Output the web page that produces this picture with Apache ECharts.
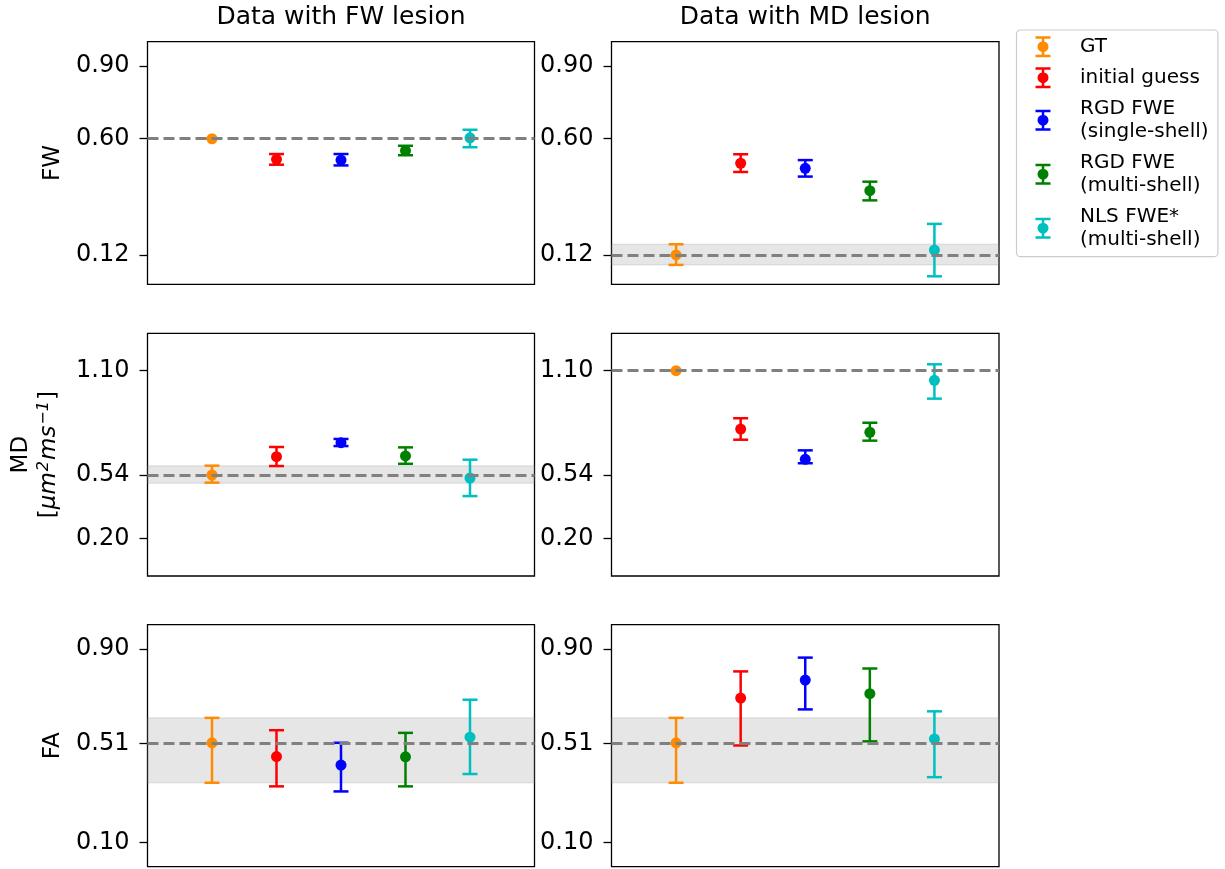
<!DOCTYPE html>
<html>
<head>
    <meta charset="utf-8">
    <script src="https://cdn.jsdelivr.net/npm/echarts@6/dist/echarts.min.js"></script>
    <style>
        html, body { margin: 0; padding: 0; background: #fff; }
        #chart { width: 1225px; height: 869px; }
    </style>
</head>
<body>
<div id="chart"></div>
<script>
    // methods and colours
    var methods = ['GT', 'initial guess', 'RGD FWE\n(single-shell)', 'RGD FWE\n(multi-shell)', 'NLS FWE*\n(multi-shell)'];
    var colors = ['#ff8c00', '#ff0000', '#0000ff', '#008000', '#00bfbf'];
    var colTitles = ['Data with FW lesion', 'Data with MD lesion'];

    // y tick values per row
    var fwTicks = [0.12, 0.60, 0.90];
    var mdTicks = [0.20, 0.54, 1.10];
    var faTicks = [0.10, 0.51, 0.90];

    // FW lesion data: mean / lower / upper
    var fwLesionFW_mean = [0.600, 0.515, 0.512, 0.551, 0.604];
    var fwLesionFW_lo   = [0.600, 0.493, 0.490, 0.532, 0.565];
    var fwLesionFW_hi   = [0.600, 0.537, 0.537, 0.571, 0.637];

    var fwLesionMD_mean = [0.541, 0.639, 0.714, 0.643, 0.525];
    var fwLesionMD_lo   = [0.500, 0.589, 0.696, 0.601, 0.428];
    var fwLesionMD_hi   = [0.591, 0.691, 0.734, 0.689, 0.623];

    var fwLesionFA_mean = [0.512, 0.455, 0.420, 0.454, 0.535];
    var fwLesionFA_lo   = [0.347, 0.332, 0.311, 0.332, 0.383];
    var fwLesionFA_hi   = [0.615, 0.564, 0.512, 0.553, 0.690];

    // MD lesion data
    var mdLesionFW_mean = [0.121, 0.499, 0.478, 0.386, 0.141];
    var mdLesionFW_lo   = [0.080, 0.463, 0.444, 0.346, 0.033];
    var mdLesionFW_hi   = [0.165, 0.536, 0.512, 0.423, 0.249];

    var mdLesionMD_mean = [1.100, 0.787, 0.625, 0.770, 1.048];
    var mdLesionMD_lo   = [1.100, 0.730, 0.604, 0.725, 0.950];
    var mdLesionMD_hi   = [1.100, 0.845, 0.673, 0.821, 1.134];

    var mdLesionFA_mean = [0.512, 0.697, 0.771, 0.715, 0.528];
    var mdLesionFA_lo   = [0.347, 0.501, 0.650, 0.518, 0.370];
    var mdLesionFA_hi   = [0.615, 0.807, 0.864, 0.819, 0.642];

    // ground truth reference lines and bands
    var refFwLesion = [0.60, 0.54, 0.51];
    var refMdLesion = [0.12, 1.10, 0.51];
    var bandFwLesion = [null, [0.497, 0.591], [0.347, 0.615]];
    var bandMdLesion = [[0.080, 0.165], null, [0.347, 0.615]];

    var FONT = 'DejaVu Sans';

    var panels = [
        { row: 0, col: 0, mean: fwLesionFW_mean, lo: fwLesionFW_lo, hi: fwLesionFW_hi, ref: refFwLesion[0], band: bandFwLesion[0] },
        { row: 1, col: 0, mean: fwLesionMD_mean, lo: fwLesionMD_lo, hi: fwLesionMD_hi, ref: refFwLesion[1], band: bandFwLesion[1] },
        { row: 2, col: 0, mean: fwLesionFA_mean, lo: fwLesionFA_lo, hi: fwLesionFA_hi, ref: refFwLesion[2], band: bandFwLesion[2] },
        { row: 0, col: 1, mean: mdLesionFW_mean, lo: mdLesionFW_lo, hi: mdLesionFW_hi, ref: refMdLesion[0], band: bandMdLesion[0] },
        { row: 1, col: 1, mean: mdLesionMD_mean, lo: mdLesionMD_lo, hi: mdLesionMD_hi, ref: refMdLesion[1], band: bandMdLesion[1] },
        { row: 2, col: 1, mean: mdLesionFA_mean, lo: mdLesionFA_lo, hi: mdLesionFA_hi, ref: refMdLesion[2], band: bandMdLesion[2] }
    ];

    var rowCfg = [
        { name: 'FW', max: 1.0, ticks: fwTicks, gap: 80 },
        { name: 'MD\n[{it|μm}{sup|2}{it|ms}{sup|−1}]', max: 1.3, ticks: mdTicks, gap: 84 },
        { name: 'FA', max: 1.0, ticks: faTicks, gap: 80 }
    ];
    var colLeft = [147.5, 611.5];
    var colWidth = [387, 387.5];
    var rowTop = [41.7, 333.3, 624.7];
    var rowHeight = [242.6, 242.7, 242];

    var errIcon = 'path://M0,0H15V2.5H0Z M0,18.5H15V21H0Z M6.25,0H8.75V5.5H6.25Z M6.25,15.5H8.75V21H6.25Z M2,10.5A5.5,5.5,0,1,1,13,10.5A5.5,5.5,0,1,1,2,10.5Z';

    function renderErr(params, api) {
        var x = api.value(0);
        var pM = api.coord([x, api.value(1)]);
        var pLo = api.coord([x, api.value(2)]);
        var pHi = api.coord([x, api.value(3)]);
        var c = api.visual('color');
        var cw = 7.5;
        var ls = { stroke: c, lineWidth: 2.5 };
        return {
            type: 'group',
            children: [
                { type: 'line', shape: { x1: pLo[0], y1: pLo[1], x2: pHi[0], y2: pHi[1] }, style: ls },
                { type: 'line', shape: { x1: pLo[0] - cw, y1: pLo[1], x2: pLo[0] + cw, y2: pLo[1] }, style: ls },
                { type: 'line', shape: { x1: pHi[0] - cw, y1: pHi[1], x2: pHi[0] + cw, y2: pHi[1] }, style: ls },
                { type: 'circle', shape: { cx: pM[0], cy: pM[1], r: 5.5 }, style: { fill: c } }
            ]
        };
    }

    var grids = [], xAxes = [], yAxes = [], series = [];
    panels.forEach(function (p, i) {
        var rc = rowCfg[p.row];
        grids.push({
            left: colLeft[p.col], top: rowTop[p.row], width: colWidth[p.col], height: rowHeight[p.row],
            show: true, borderColor: '#000', borderWidth: 1.3, backgroundColor: '#fff',
            outerBoundsMode: 'none'
        });
        xAxes.push({
            type: 'value', gridIndex: i, min: 0, max: 6,
            position: p.row === 0 ? 'top' : 'bottom',
            name: p.row === 0 ? colTitles[p.col] : '',
            nameLocation: 'middle', nameGap: 12,
            nameTextStyle: { fontFamily: FONT, fontSize: 25, color: '#000' },
            axisLine: { show: false }, axisTick: { show: false }, axisLabel: { show: false },
            splitLine: { show: false }
        });
        yAxes.push({
            type: 'value', gridIndex: i, min: 0, max: rc.max,
            name: p.col === 0 ? rc.name : '',
            nameLocation: 'middle', nameRotate: 90, nameGap: rc.gap,
            nameTextStyle: {
                fontFamily: FONT, fontSize: 23, color: '#000', lineHeight: 28,
                rich: {
                    it: { fontFamily: FONT, fontSize: 23, fontStyle: 'italic', color: '#000', lineHeight: 28 },
                    sup: { fontFamily: FONT, fontSize: 16, fontStyle: 'italic', color: '#000', lineHeight: 28, verticalAlign: 'top', padding: [0, 1, 0, 1] }
                }
            },
            axisLine: { show: false },
            axisTick: { show: true, length: 8, customValues: rc.ticks, lineStyle: { color: '#000', width: 1.3 } },
            axisLabel: {
                customValues: rc.ticks, margin: 18, fontFamily: FONT, fontSize: 24, color: '#000',
                formatter: function (v) { return v.toFixed(2); }
            },
            splitLine: { show: false }
        });
        // reference dashed line + GT band
        var refSeries = {
            type: 'line', xAxisIndex: i, yAxisIndex: i, data: [], z: 1, silent: true,
            markLine: {
                silent: true, symbol: 'none', label: { show: false },
                lineStyle: { type: [11, 5], color: '#808080', width: 3 },
                data: [{ yAxis: p.ref }]
            }
        };
        if (p.band) {
            refSeries.markArea = {
                silent: true,
                itemStyle: { color: 'rgba(128,128,128,0.2)', borderColor: 'rgba(128,128,128,0.15)', borderWidth: 1.5 },
                data: [[{ yAxis: p.band[0] }, { yAxis: p.band[1] }]]
            };
        }
        series.push(refSeries);
        methods.forEach(function (m, k) {
            series.push({
                type: 'custom', name: m, xAxisIndex: i, yAxisIndex: i, z: 3,
                itemStyle: { color: colors[k] },
                renderItem: renderErr,
                encode: { x: 0, y: [1, 2, 3] },
                data: [[k + 1, p.mean[k], p.lo[k], p.hi[k]]]
            });
        });
    });

    var chart = echarts.init(document.getElementById('chart'), null, { renderer: 'canvas' });
    chart.setOption({
        backgroundColor: '#fff',
        animation: false,
        textStyle: { fontFamily: FONT },
        legend: {
            orient: 'vertical', left: 1016.5, top: 30,
            padding: [5.2, 9.4, 5.5, 19],
            itemGap: 8, itemWidth: 15, itemHeight: 21,
            borderColor: '#cccccc', borderWidth: 1.2, borderRadius: 4,
            backgroundColor: '#fff',
            textStyle: { fontFamily: FONT, fontSize: 20, lineHeight: 23, color: '#000', padding: [0, 0, 0, 24.5] },
            data: methods.map(function (m) { return { name: m, icon: errIcon }; })
        },
        grid: grids,
        xAxis: xAxes,
        yAxis: yAxes,
        series: series
    });
</script>
</body>
</html>
